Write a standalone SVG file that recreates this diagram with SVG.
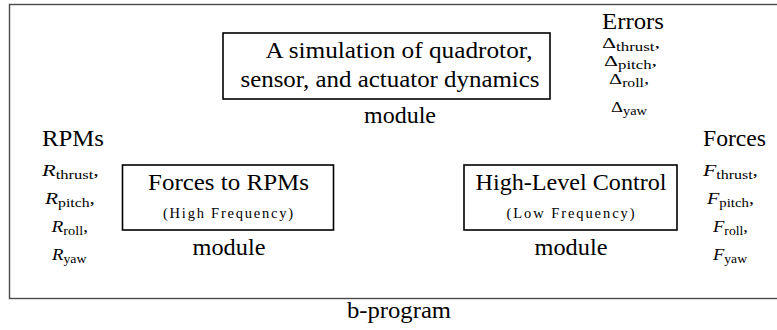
<svg xmlns="http://www.w3.org/2000/svg" width="777" height="330" viewBox="0 0 777 330">
<style>
.box{fill:none;stroke:#000;stroke-width:1.6}
.frame{fill:none;stroke:#4a4a4a;stroke-width:1.4}
</style>
<g id="b-program">
<rect class="frame" x="9.5" y="4.5" width="780" height="294"/>
<text font-family="Liberation Serif" font-size="23.5" text-anchor="middle" x="399" y="318" textLength="104" lengthAdjust="spacingAndGlyphs">b-program</text>
</g>
<g id="simulation">
<rect class="box" x="223" y="33" width="327" height="66"/>
<text font-family="Liberation Serif" font-size="23.5" text-anchor="middle" x="399" y="57.5" textLength="267" lengthAdjust="spacingAndGlyphs">A simulation of quadrotor,</text>
<text font-family="Liberation Serif" font-size="23.5" text-anchor="middle" x="390" y="86.5" textLength="299" lengthAdjust="spacingAndGlyphs">sensor, and actuator dynamics</text>
<text font-family="Liberation Serif" font-size="23.5" text-anchor="middle" x="400" y="123" textLength="72" lengthAdjust="spacingAndGlyphs">module</text>
</g>
<g id="forces-to-rpms">
<rect class="box" x="122.5" y="165" width="211" height="65"/>
<text font-family="Liberation Serif" font-size="23.5" text-anchor="middle" x="228.5" y="190" textLength="161" lengthAdjust="spacingAndGlyphs">Forces to RPMs</text>
<text font-family="Liberation Serif" font-size="14.5" text-anchor="middle" x="228" y="217.5" textLength="130">(High Frequency)</text>
<text font-family="Liberation Serif" font-size="23.5" text-anchor="middle" x="229" y="255" textLength="73" lengthAdjust="spacingAndGlyphs">module</text>
</g>
<g id="high-level-control">
<rect class="box" x="464" y="165" width="213" height="65"/>
<text font-family="Liberation Serif" font-size="23.5" text-anchor="middle" x="571" y="190" textLength="191" lengthAdjust="spacingAndGlyphs">High-Level Control</text>
<text font-family="Liberation Serif" font-size="14.5" text-anchor="middle" x="570.5" y="217.5" textLength="128">(Low Frequency)</text>
<text font-family="Liberation Serif" font-size="23.5" text-anchor="middle" x="571" y="255" textLength="73" lengthAdjust="spacingAndGlyphs">module</text>
</g>
<g id="rpms" font-family="Liberation Serif">
<text font-size="23.5" text-anchor="middle" x="73" y="146" textLength="62" lengthAdjust="spacingAndGlyphs">RPMs</text>
<text font-size="17" x="42" y="175.5" textLength="57" lengthAdjust="spacingAndGlyphs"><tspan font-style="italic">R</tspan><tspan font-size="12.5" dy="3">thrust</tspan><tspan dy="-3">,</tspan></text>
<text font-size="17" x="45" y="204" textLength="50" lengthAdjust="spacingAndGlyphs"><tspan font-style="italic">R</tspan><tspan font-size="12.5" dy="3">pitch</tspan><tspan dy="-3">,</tspan></text>
<text font-size="17" x="51.5" y="232" textLength="36.5" lengthAdjust="spacingAndGlyphs"><tspan font-style="italic">R</tspan><tspan font-size="12.5" dy="3">roll</tspan><tspan dy="-3">,</tspan></text>
<text font-size="17" x="52" y="260" textLength="34.5" lengthAdjust="spacingAndGlyphs"><tspan font-style="italic">R</tspan><tspan font-size="12.5" dy="3">yaw</tspan></text>
</g>
<g id="forces" font-family="Liberation Serif">
<text font-size="23.5" text-anchor="middle" x="734.5" y="146" textLength="63" lengthAdjust="spacingAndGlyphs">Forces</text>
<text font-size="17" x="703" y="175.5" textLength="55" lengthAdjust="spacingAndGlyphs"><tspan font-style="italic">F</tspan><tspan font-size="12.5" dy="3">thrust</tspan><tspan dy="-3">,</tspan></text>
<text font-size="17" x="707" y="204" textLength="47" lengthAdjust="spacingAndGlyphs"><tspan font-style="italic">F</tspan><tspan font-size="12.5" dy="3">pitch</tspan><tspan dy="-3">,</tspan></text>
<text font-size="17" x="713" y="232" textLength="35" lengthAdjust="spacingAndGlyphs"><tspan font-style="italic">F</tspan><tspan font-size="12.5" dy="3">roll</tspan><tspan dy="-3">,</tspan></text>
<text font-size="17" x="713" y="260" textLength="34" lengthAdjust="spacingAndGlyphs"><tspan font-style="italic">F</tspan><tspan font-size="12.5" dy="3">yaw</tspan></text>
</g>
<g id="errors" font-family="Liberation Serif">
<text font-size="23.5" text-anchor="middle" x="633" y="28.5" textLength="62" lengthAdjust="spacingAndGlyphs">Errors</text>
<text font-size="15" x="602" y="48" textLength="58" lengthAdjust="spacingAndGlyphs">Δ<tspan font-size="11.5" dy="3">thrust</tspan><tspan dy="-3">,</tspan></text>
<text font-size="15" x="604" y="65.5" textLength="53" lengthAdjust="spacingAndGlyphs">Δ<tspan font-size="11.5" dy="3">pitch</tspan><tspan dy="-3">,</tspan></text>
<text font-size="15" x="609" y="83.5" textLength="40" lengthAdjust="spacingAndGlyphs">Δ<tspan font-size="11.5" dy="3">roll</tspan><tspan dy="-3">,</tspan></text>
<text font-size="15" x="611" y="111.5" textLength="36" lengthAdjust="spacingAndGlyphs">Δ<tspan font-size="11.5" dy="3">yaw</tspan></text>
</g>
<g id="connectors"/>
</svg>
